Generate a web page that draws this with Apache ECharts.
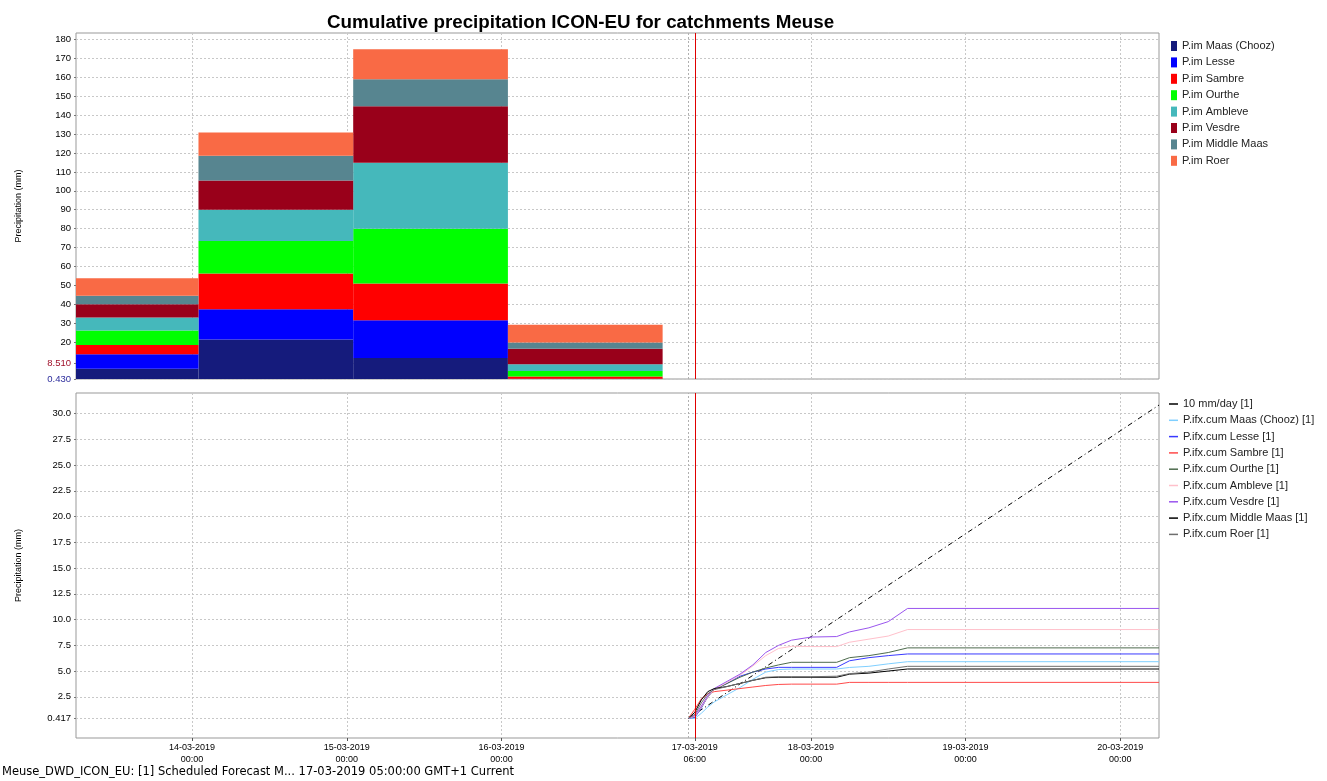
<!DOCTYPE html>
<html>
<head>
<meta charset="utf-8">
<script src="https://cdn.jsdelivr.net/npm/echarts@6/dist/echarts.min.js"></script>
<style>
html, body { margin: 0; padding: 0; background: #fff; }
#main { width: 1327px; height: 781px; }
</style>
</head>
<body>
<div id="main"></div>
<script>
var catchments = ['Maas (Chooz)', 'Lesse', 'Sambre', 'Ourthe', 'Ambleve', 'Vesdre', 'Middle Maas', 'Roer'];
var barColors = ['#151b7c', '#0000ff', '#ff0000', '#00ff00', '#45b8bb', '#99001a', '#578590', '#f96a45'];
var lineColors = ['#7fcfff', '#3a3aff', '#ff4a4a', '#4d6b4d', '#ffc0cb', '#9a55ee', '#000000', '#6e6e6e'];

// daily sums (01:00 -> 01:00)
var dayStart = ['2019-03-13T01:00:00', '2019-03-14T01:00:00', '2019-03-15T01:00:00', '2019-03-16T01:00:00'];
var dayEnd = ['2019-03-14T01:00:00', '2019-03-15T01:00:00', '2019-03-16T01:00:00', '2019-03-17T01:00:00'];
var imMaas = [5.9, 21.3, 11.5, 0.3];
var imLesse = [7.6, 16.1, 20.0, 0.3];
var imSambre = [4.9, 18.9, 19.5, 1.1];
var imOurthe = [7.7, 17.2, 28.9, 3.0];
var imAmbleve = [6.9, 16.5, 35.0, 3.55];
var imVesdre = [7.0, 15.4, 29.8, 8.25];
var imMiddleMaas = [4.5, 13.2, 14.3, 3.2];
var imRoer = [9.2, 12.2, 15.9, 9.4];
var imValues = [imMaas, imLesse, imSambre, imOurthe, imAmbleve, imVesdre, imMiddleMaas, imRoer];

// forecast, hours after 17-03-2019 05:00
var fcStart = '2019-03-17T05:00:00';
var fcHours = [0, 1, 2, 3, 4, 6, 8, 10, 12, 14, 16, 19, 23, 25, 28, 31, 34, 73];
var cumMaas = [0.417, 0.4, 0.9, 1.5, 2.0, 2.7, 3.4, 4.2, 4.9, 5.15, 5.2, 5.2, 5.2, 5.35, 5.46, 5.7, 5.91, 5.91];
var cumLesse = [0.417, 0.5, 1.4, 2.5, 3.2, 3.8, 4.5, 4.9, 5.2, 5.36, 5.36, 5.36, 5.36, 6.0, 6.3, 6.5, 6.66, 6.66];
var cumSambre = [0.417, 1.3, 2.3, 2.8, 3.0, 3.15, 3.3, 3.45, 3.6, 3.7, 3.73, 3.73, 3.73, 3.9, 3.9, 3.9, 3.9, 3.9];
var cumOurthe = [0.417, 0.6, 1.5, 2.5, 3.2, 3.8, 4.4, 4.9, 5.3, 5.6, 5.85, 5.85, 5.85, 6.3, 6.5, 6.8, 7.25, 7.25];
var cumAmbleve = [0.417, 0.6, 1.5, 2.5, 3.2, 3.9, 4.6, 5.5, 6.5, 7.2, 7.4, 7.38, 7.38, 7.8, 8.1, 8.4, 9.03, 9.03];
var cumVesdre = [0.417, 0.7, 1.6, 2.6, 3.3, 4.0, 4.7, 5.6, 6.8, 7.5, 8.0, 8.3, 8.35, 8.8, 9.2, 9.8, 11.08, 11.08];
var cumMiddleMaas = [0.417, 1.0, 2.2, 3.0, 3.3, 3.5, 3.8, 4.1, 4.35, 4.4, 4.4, 4.4, 4.4, 4.7, 4.8, 5.0, 5.2, 5.2];
var cumRoer = [0.417, 0.8, 1.9, 2.8, 3.2, 3.5, 3.8, 4.1, 4.4, 4.45, 4.45, 4.45, 4.5, 4.75, 4.9, 5.2, 5.46, 5.46];
var cumValues = [cumMaas, cumLesse, cumSambre, cumOurthe, cumAmbleve, cumVesdre, cumMiddleMaas, cumRoer];

// 10 mm/day reference
var refHours = [0, 73];
var refValues = [0.417, 30.83];

var xMin = '2019-03-13T06:00:00';
var xMax = '2019-03-20T06:00:00';
var xTicks = ['2019-03-14T00:00:00', '2019-03-15T00:00:00', '2019-03-16T00:00:00', '2019-03-17T06:00:00',
              '2019-03-18T00:00:00', '2019-03-19T00:00:00', '2019-03-20T00:00:00'];
var nowTime = '2019-03-17T06:00:00';
var topTicks = [0.43, 8.51, 20, 30, 40, 50, 60, 70, 80, 90, 100, 110, 120, 130, 140, 150, 160, 170, 180];
var bottomTicks = [0.417, 2.5, 5, 7.5, 10, 12.5, 15, 17.5, 20, 22.5, 25, 27.5, 30];

function ts(s) { return new Date(s).getTime(); }
function pad(n) { return (n < 10 ? '0' : '') + n; }

var myChart = echarts.init(document.getElementById('main'));
var t0 = ts(fcStart);
var gridLine = { show: true, lineStyle: { color: '#c8c8c8', width: 1, type: [2, 2] } };

// x is a plain value axis holding timestamps, so the ticks can be placed by hand
function timeAxis(gridIndex, showLabels) {
    return {
        type: 'value',
        gridIndex: gridIndex,
        min: ts(xMin),
        max: ts(xMax),
        axisLine: { show: false, onZero: false },
        axisTick: { show: showLabels, customValues: xTicks.map(ts), length: 3, lineStyle: { color: '#555' } },
        axisLabel: {
            show: showLabels,
            customValues: xTicks.map(ts),
            fontSize: 9,
            fontFamily: 'Liberation Sans',
            color: '#000',
            lineHeight: 12,
            margin: 4,
            formatter: function (v) {
                var d = new Date(v);
                return pad(d.getDate()) + '-' + pad(d.getMonth() + 1) + '-' + d.getFullYear() + '\n' +
                    pad(d.getHours()) + ':' + pad(d.getMinutes());
            }
        },
        splitLine: gridLine
    };
}

function valueAxis(gridIndex, min, max, ticks, fmt, colorFn) {
    return {
        type: 'value',
        gridIndex: gridIndex,
        min: min,
        max: max,
        name: 'Precipitation (mm)',
        nameLocation: 'middle',
        nameGap: 53,
        nameTextStyle: { fontSize: 9, fontFamily: 'Liberation Sans', color: '#000' },
        axisLine: { show: false, onZero: false },
        axisTick: { show: true, customValues: ticks, length: 2, lineStyle: { color: '#777' } },
        axisLabel: {
            customValues: ticks,
            fontSize: 9.5,
            fontFamily: 'Liberation Sans',
            margin: 5,
            color: colorFn,
            formatter: fmt
        },
        splitLine: gridLine
    };
}

function renderBar(params, api) {
    var a = api.coord([api.value(0), api.value(3)]);
    var b = api.coord([api.value(1), api.value(2)]);
    var cs = params.coordSys;
    var rect = echarts.graphic.clipRectByRect(
        { x: a[0], y: a[1], width: b[0] - a[0], height: b[1] - a[1] },
        { x: cs.x, y: cs.y, width: cs.width, height: cs.height });
    return rect && { type: 'rect', shape: rect, style: api.style({ stroke: null }) };
}

var series = [];
var base = dayStart.map(function () { return 0; });
catchments.forEach(function (name, i) {
    series.push({
        name: 'P.im ' + name,
        type: 'custom',
        xAxisIndex: 0,
        yAxisIndex: 0,
        renderItem: renderBar,
        itemStyle: { color: barColors[i] },
        encode: { x: [0, 1], y: [2, 3] },
        data: dayStart.map(function (s, k) {
            var lo = base[k];
            base[k] = lo + imValues[i][k];
            return [ts(s), ts(dayEnd[k]), lo, base[k]];
        })
    });
});

// vertical marker lines: forecast time (dotted grey) and current time (red), in both plots
function vLine(g, t, color, type) {
    return {
        type: 'line',
        xAxisIndex: g,
        yAxisIndex: g,
        data: [],
        itemStyle: { color: color },
        lineStyle: { color: color },
        markLine: {
            silent: true,
            symbol: 'none',
            label: { show: false },
            lineStyle: { color: color, width: 1, type: type, opacity: 1 },
            data: [{ xAxis: t }]
        }
    };
}
[0, 1].forEach(function (g) {
    series.push(vLine(g, t0, '#b0b0b0', [2, 2]));
    series.push(vLine(g, ts(nowTime), '#e00000', 'solid'));
});

series.push({
    name: '10 mm/day [1]',
    type: 'line',
    xAxisIndex: 1,
    yAxisIndex: 1,
    symbol: 'none',
    lineStyle: { color: '#000', width: 1, type: [5, 3, 1, 3] },
    itemStyle: { color: '#000' },
    data: refHours.map(function (h, k) { return [t0 + h * 3600000, refValues[k]]; })
});

catchments.forEach(function (name, i) {
    series.push({
        name: 'P.ifx.cum ' + name + ' [1]',
        type: 'line',
        xAxisIndex: 1,
        yAxisIndex: 1,
        symbol: 'none',
        lineStyle: { color: lineColors[i], width: 1 },
        itemStyle: { color: lineColors[i] },
        data: fcHours.map(function (h, k) { return [t0 + h * 3600000, cumValues[i][k]]; })
    });
});

var legendText = { fontSize: 11, lineHeight: 12, color: '#222', fontFamily: 'Liberation Sans' };

var option = {
    animation: false,
    backgroundColor: '#fff',
    title: {
        text: 'Cumulative precipitation ICON-EU for catchments Meuse',
        left: 322,
        top: 8,
        textStyle: { fontSize: 18.8, fontWeight: 'bold', fontFamily: 'Liberation Sans', color: '#000' }
    },
    legend: [{
        data: catchments.map(function (n) { return 'P.im ' + n; }),
        orient: 'vertical',
        left: 1166,
        top: 35,
        icon: 'rect',
        itemWidth: 6,
        itemHeight: 10,
        itemGap: 4.4,
        selectedMode: false,
        textStyle: legendText
    }, {
        data: ['10 mm/day [1]'].concat(catchments.map(function (n) { return 'P.ifx.cum ' + n + ' [1]'; })),
        orient: 'vertical',
        left: 1164,
        top: 393,
        icon: 'rect',
        itemWidth: 9,
        itemHeight: 1.5,
        itemGap: 4.3,
        selectedMode: false,
        textStyle: legendText
    }],
    grid: [
        { left: 76, right: 168, top: 33, height: 346, show: true, borderColor: '#999', backgroundColor: '#fff' },
        { left: 76, right: 168, top: 393, height: 345, show: true, borderColor: '#999', backgroundColor: '#fff' }
    ],
    xAxis: [timeAxis(0, false), timeAxis(1, true)],
    yAxis: [
        valueAxis(0, 0.43, 183.5, topTicks,
            function (v) { return (v === 0.43 || v === 8.51) ? v.toFixed(3) : v.toFixed(0); },
            function (v) {
                var n = parseFloat(v);
                return n === 0.43 ? '#2c2c9c' : (n === 8.51 ? '#a0102a' : '#000');
            }),
        valueAxis(1, -1.5, 32, bottomTicks,
            function (v) { return v === 0.417 ? '0.417' : v.toFixed(1); },
            '#000')
    ],
    graphic: [{
        type: 'text',
        left: 2,
        top: 766,
        style: {
            text: 'Meuse_DWD_ICON_EU: [1] Scheduled Forecast M... 17-03-2019 05:00:00 GMT+1 Current',
            fontSize: 11.5,
            fontFamily: 'DejaVu Sans',
            fill: '#000'
        }
    }],
    series: series
};

myChart.setOption(option);
</script>
</body>
</html>
